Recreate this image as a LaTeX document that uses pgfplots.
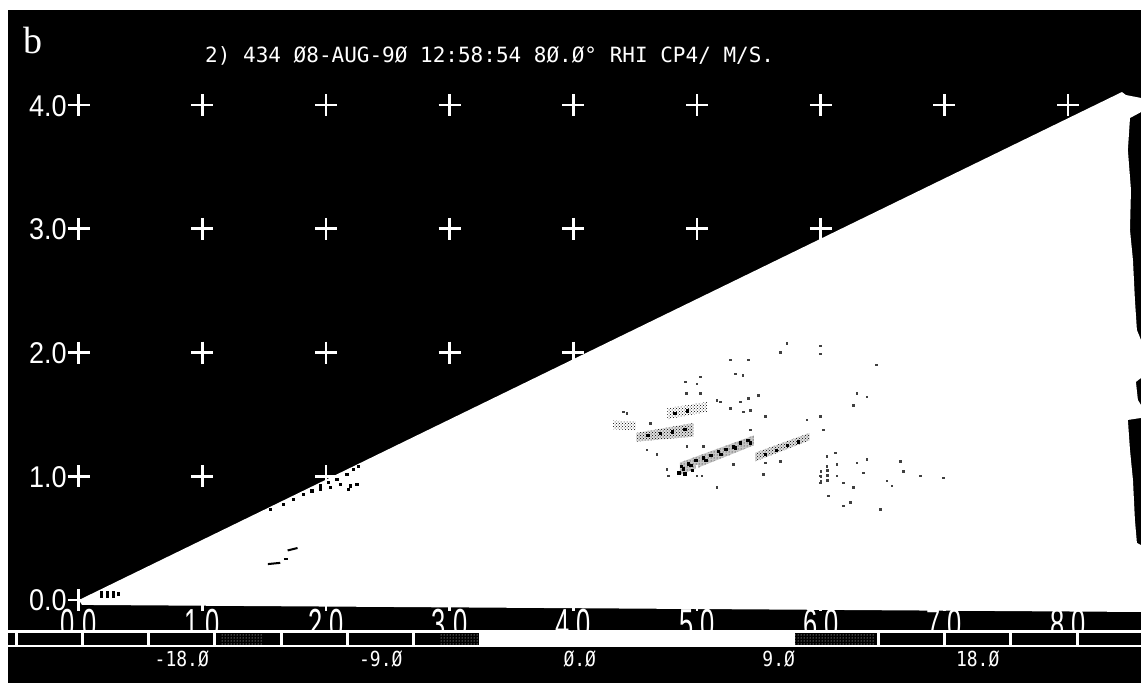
\documentclass[border=0pt]{standalone}
\usepackage{fontspec}
\usepackage{pgfplots}
\pgfplotsset{compat=1.18}
\usetikzlibrary{patterns}
\newfontfamily\scopemono{DejaVu Sans Mono}
\newfontfamily\scopesans{Liberation Sans}
\newfontfamily\scopeserif{Liberation Serif}

\begin{document}
\begin{tikzpicture}
\fill[white] (-8pt,0pt) rectangle (1133pt,683pt);
\begin{axis}[
  at={(0pt,0pt)}, anchor=south west,
  scale only axis, width=1133pt, height=673pt,
  xmin=-5.71, xmax=85.89, ymin=-0.671, ymax=4.768,
  axis lines=none, ticks=none,
]
% display background
\fill[black] (rel axis cs:0,0) rectangle (rel axis cs:1,1);

% range-height grid: every 10 km in range, every 1 km in height
\addplot[only marks, mark=+, mark size=11pt, white, line width=2.6pt] coordinates {
 (0,0)(10,0)(20,0)(30,0)(40,0)(50,0)(60,0)(70,0)(80,0)
 (0,1)(10,1)(20,1)(30,1)(40,1)(50,1)(60,1)(70,1)(80,1)
 (0,2)(10,2)(20,2)(30,2)(40,2)(50,2)(60,2)(70,2)(80,2)
 (0,3)(10,3)(20,3)(30,3)(40,3)(50,3)(60,3)(70,3)(80,3)
 (0,4)(10,4)(20,4)(30,4)(40,4)(50,4)(60,4)(70,4)(80,4)
};

% height labels (km)
\tikzset{hlab/.style={white, inner sep=0pt, anchor=base east, xscale=0.9,
  font={\scopesans\fontsize{30}{30}\selectfont}}}
\node[hlab] at (axis cs:-0.95,3.911) {4.0};
\node[hlab] at (axis cs:-0.95,2.911) {3.0};
\node[hlab] at (axis cs:-0.95,1.911) {2.0};
\node[hlab] at (axis cs:-0.95,0.911) {1.0};
\node[hlab] at (axis cs:-0.95,-0.089) {0.0};

% range labels (x10 km)
\tikzset{rlab/.style={white, inner sep=0pt, anchor=base, xscale=0.85, yscale=1.4,
  font={\scopesans\fontsize{30}{30}\selectfont}}}
\node[rlab] at (axis cs:0,-0.315) {0.0};
\node[rlab] at (axis cs:10,-0.315) {1.0};
\node[rlab] at (axis cs:20,-0.315) {2.0};
\node[rlab] at (axis cs:30,-0.315) {3.0};
\node[rlab] at (axis cs:40,-0.315) {4.0};
\node[rlab] at (axis cs:50,-0.315) {5.0};
\node[rlab] at (axis cs:60,-0.315) {6.0};
\node[rlab] at (axis cs:70,-0.315) {7.0};
\node[rlab] at (axis cs:80,-0.315) {8.0};

% scanned sector
\addplot[fill=white, draw=none] coordinates {
 (0.03,0.0) (84.35,4.105) (84.67,4.081) (85.89,4.057) (85.89,3.943)
 (85.00,3.895) (84.83,3.636) (85.08,3.313) (85.00,2.990) (85.24,2.747)
 (85.40,2.424) (85.56,2.182) (85.89,2.101) (85.89,1.794) (85.48,1.762)
 (85.64,1.616) (85.89,1.576) (85.89,1.471) (84.83,1.455) (85.0,1.212)
 (85.24,0.970) (85.40,0.646) (85.56,0.461) (85.89,0.444) (85.89,-0.097)
 (0.27,-0.040)
} -- cycle;

% velocity echoes
\addplot[draw=none, fill=gray!45] coordinates {(48.6,1.01)(54.6,1.25)(54.6,1.33)(48.6,1.11)} -- cycle;
\addplot[draw=none, pattern=dots, pattern color=black] coordinates {(48.6,1.01)(54.6,1.25)(54.6,1.33)(48.6,1.11)} -- cycle;
\addplot[draw=none, fill=gray!25] coordinates {(45.1,1.28)(49.7,1.32)(49.7,1.43)(45.1,1.35)} -- cycle;
\addplot[draw=none, pattern=crosshatch dots, pattern color=black] coordinates {(45.1,1.28)(49.7,1.32)(49.7,1.43)(45.1,1.35)} -- cycle;
\addplot[draw=none, pattern=crosshatch dots, pattern color=black] coordinates {(43.2,1.38)(45.1,1.37)(45.1,1.44)(43.2,1.45)} -- cycle;
\addplot[draw=none, pattern=crosshatch dots, pattern color=black] coordinates {(47.6,1.46)(50.8,1.52)(50.8,1.60)(47.6,1.55)} -- cycle;
\addplot[draw=none, fill=gray!25] coordinates {(54.7,1.12)(59.1,1.29)(59.1,1.35)(54.7,1.19)} -- cycle;
\addplot[draw=none, pattern=crosshatch dots, pattern color=black] coordinates {(54.7,1.12)(59.1,1.29)(59.1,1.35)(54.7,1.19)} -- cycle;

% darker cores of the lower bands
\addplot[only marks, mark=square*, mark size=1.2pt, black] coordinates {
 (48.7,1.08)(49.3,1.10)(49.9,1.13)(50.5,1.15)(51.1,1.17)(51.7,1.20)(52.3,1.22)(52.9,1.24)(53.5,1.27)(54.1,1.29)
 (48.9,1.06)(49.5,1.09)(50.7,1.13)(51.9,1.18)(53.1,1.23)(54.3,1.27)
 (48.5,1.03)(49.0,1.02)(49.6,1.05)(55.5,1.18)(56.4,1.21)(57.3,1.25)(58.2,1.28)
 (46.0,1.33)(47.0,1.35)(48.0,1.36)(49.0,1.38)(48.2,1.51)(49.2,1.53)
};

% scattered returns
\addplot[only marks, mark=square*, mark size=0.8pt, black!75] coordinates {
 (57.24,2.075)(56.70,2.003)(59.94,2.056)(59.94,1.989)(52.66,1.941)(54.14,1.941)
 (64.46,1.901)(53.07,1.829)(53.69,1.816)(50.24,1.803)(49.02,1.763)(49.97,1.749)
 (49.10,1.669)(50.24,1.669)(62.90,1.669)(63.71,1.643)(54.95,1.656)(54.14,1.629)
 (51.58,1.616)(51.85,1.603)(53.47,1.603)(62.63,1.576)(52.66,1.549)(53.74,1.523)
 (54.28,1.536)(55.49,1.483)(58.86,1.456)(59.94,1.483)(60.21,1.376)(46.19,1.429)
 (44.04,1.523)(44.31,1.509)(45.92,1.216)(46.73,1.176)(49.16,1.243)(50.51,1.243)
 (52.93,1.096)(54.28,1.376)(55.49,1.109)(56.70,1.123)(55.36,1.016)(51.58,0.909)
 (47.54,1.056)(47.68,1.003)(49.97,1.003)(50.37,1.003)(60.48,1.163)(61.15,1.189)
 (61.28,1.096)(60.48,1.083)(59.94,1.003)(59.94,0.949)(61.28,1.003)(61.82,0.949)
 (62.63,0.909)(61.82,0.763)(62.36,0.789)(64.79,0.736)(63.44,1.029)(63.71,1.136)
 (65.33,0.963)(66.40,1.123)(66.67,1.043)(68.02,1.003)(69.91,0.989)(65.73,0.923)
 (60.61,0.843)(62.90,1.109)
 (60.0,0.96)(60.0,1.00)(60.0,1.04)(60.5,0.97)(60.5,1.01)(60.5,1.05)
};
% returns along the upper edge of the sector and near the radar
\addplot[only marks, mark=square*, mark size=1.1pt, black] coordinates {
 (15.47,0.736)(16.55,0.776)(17.36,0.816)(18.17,0.856)(18.84,0.883)(19.51,0.923)
 (20.19,0.949)(20.86,0.976)(21.67,1.016)(22.21,1.056)(22.61,1.083)
 (19.51,0.896)(20.32,0.909)(21.13,0.936)(21.94,0.923)(22.48,0.936)(21.81,0.896)
 (1.8,0.065)(2.3,0.065)(2.8,0.065)(1.8,0.035)(2.3,0.035)(2.8,0.035)(3.2,0.05)
};
\addplot[black, line width=2pt] coordinates {(15.3,0.29)(16.3,0.30)};
\addplot[black, line width=2pt] coordinates {(16.6,0.33)(16.9,0.33)};
\addplot[black, line width=2pt] coordinates {(16.9,0.40)(17.7,0.42)};

% velocity colour bar (3 m/s classes)
\fill[white] (axis cs:-5.71,-0.242) rectangle (axis cs:85.89,-0.380);
\fill[black] (axis cs:-5.71,-0.267) rectangle (axis cs:-5.18,-0.364);
\fill[black] (axis cs:-4.940,-0.267) rectangle (axis cs:0.180,-0.364);
\fill[black] (axis cs:0.422,-0.267) rectangle (axis cs:5.542,-0.364);
\fill[black] (axis cs:5.784,-0.267) rectangle (axis cs:10.904,-0.364);
\fill[black] (axis cs:11.146,-0.267) rectangle (axis cs:16.266,-0.364);
\fill[black] (axis cs:16.508,-0.267) rectangle (axis cs:21.628,-0.364);
\fill[black] (axis cs:21.870,-0.267) rectangle (axis cs:26.990,-0.364);
\fill[black] (axis cs:27.232,-0.267) rectangle (axis cs:32.352,-0.364);
\fill[black] (axis cs:59.404,-0.267) rectangle (axis cs:64.524,-0.364);
\fill[black] (axis cs:64.766,-0.267) rectangle (axis cs:69.886,-0.364);
\fill[black] (axis cs:70.128,-0.267) rectangle (axis cs:75.248,-0.364);
\fill[black] (axis cs:75.490,-0.267) rectangle (axis cs:80.610,-0.364);
\fill[black] (axis cs:80.852,-0.267) rectangle (axis cs:85.972,-0.364);
\fill[black] (axis cs:57.9,-0.267) rectangle (axis cs:59.404,-0.364);
\fill[pattern=dots, pattern color=white] (axis cs:11.43,-0.269) rectangle (axis cs:14.83,-0.362);
\fill[pattern=dots, pattern color=white] (axis cs:29.2,-0.269) rectangle (axis cs:32.35,-0.362);
\fill[pattern=dots, pattern color=white] (axis cs:57.9,-0.269) rectangle (axis cs:64.4,-0.362);

\tikzset{vlab/.style={white, inner sep=0pt, anchor=base, yscale=1.15,
  font={\scopemono\fontsize{18}{18}\selectfont}}}
\node[vlab] at (axis cs:8.344,-0.541) {-18.Ø};
\node[vlab] at (axis cs:24.43,-0.541) {-9.Ø};
\node[vlab] at (axis cs:40.516,-0.541) {Ø.Ø};
\node[vlab] at (axis cs:56.602,-0.541) {9.Ø};
\node[vlab] at (axis cs:72.688,-0.541) {18.Ø};

% panel letter and scan header
\node[white, inner sep=0pt, anchor=base west, font={\scopeserif\fontsize{38}{38}\selectfont}]
  at (axis cs:-4.45,4.42) {b};
\node[white, inner sep=0pt, anchor=base west, font={\scopemono\fontsize{21}{21}\selectfont}]
  at (axis cs:10.22,4.347) {2) 434 Ø8-AUG-9Ø 12:58:54 8Ø.Ø° RHI CP4/ M/S.};
\end{axis}
\end{tikzpicture}
\end{document}
